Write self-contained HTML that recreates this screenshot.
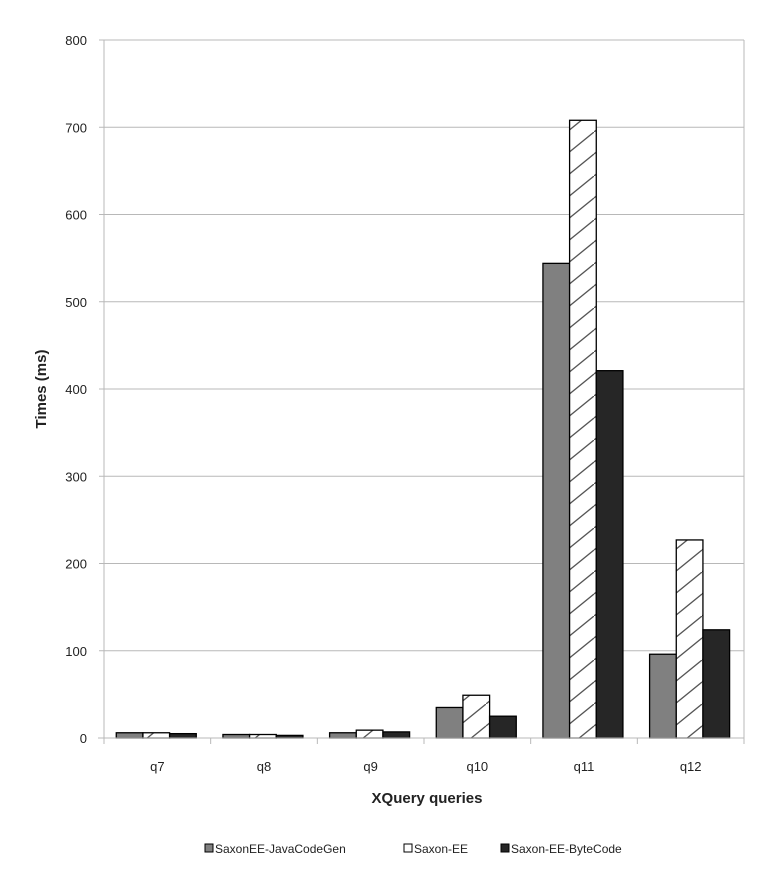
<!DOCTYPE html>
<html><head><meta charset="utf-8"><style>
body{margin:0;background:#fff;font-family:"Liberation Sans",Arial,sans-serif}
</style></head><body>
<svg id="chart" width="768" height="875" xmlns="http://www.w3.org/2000/svg">
<defs>
<pattern id="hatch" patternUnits="userSpaceOnUse" width="27" height="44" x="0" y="0">
<line x1="0" y1="44" x2="27" y2="22" stroke="#555" stroke-width="1.3"/>
<line x1="0" y1="22" x2="27" y2="0" stroke="#555" stroke-width="1.3"/>
</pattern>
</defs>
<g id="grid"></g><g id="bars"></g><g id="axes"></g>
<text transform="translate(46,389) rotate(-90)" text-anchor="middle" font-size="15" font-weight="bold" fill="#222">Times (ms)</text>
<text x="427" y="803" text-anchor="middle" font-size="15" font-weight="bold" fill="#222">XQuery queries</text>
<g font-size="12" fill="#222">
<g><rect x="205" y="844" width="8" height="8" fill="#808080" stroke="#000"/><text x="215" y="853">SaxonEE-JavaCodeGen</text></g>
<g><rect x="404" y="844" width="8" height="8" fill="#fff" stroke="#000"/><text x="414" y="853">Saxon-EE</text></g>
<g><rect x="501" y="844" width="8" height="8" fill="#262626" stroke="#000"/><text x="511" y="853">Saxon-EE-ByteCode</text></g>
</g>
</svg>
<script>
const categories=["q7","q8","q9","q10","q11","q12"];
const javaCodeGen=[6,4,6,35,544,96];
const saxonEE=[6,4,9,49,708,227];
const byteCode=[5,3,7,25,421,124];
const yTicks=[0,100,200,300,400,500,600,700,800];
const NS="http://www.w3.org/2000/svg";
const x0=104,x1=744,y0=738,y1=40,yMax=800;
const gw=(x1-x0)/categories.length;
function y(v){return y0-(v/yMax)*(y0-y1);}
function xg(i){return x0+i*gw;}
function mk(tag,attrs,parent){const e=document.createElementNS(NS,tag);for(const k in attrs)e.setAttribute(k,attrs[k]);parent.appendChild(e);return e;}
const grid=document.getElementById('grid'),bars=document.getElementById('bars'),axes=document.getElementById('axes');
yTicks.forEach(t=>{
 const l=mk('line',{x1:x0,x2:x1,y1:y(t),y2:y(t),stroke:'#b8b8b8','stroke-width':1},grid);
 
 
 const tx=mk('text',{x:87,y:y(t)+5,'text-anchor':'end','font-size':13,fill:'#222'},axes);
 tx.textContent=t;
 
 
});
mk('line',{x1:x1,x2:x1,y1:y1,y2:y0,stroke:'#b8b8b8'},grid);
const series=[[javaCodeGen,'#808080','javacodegen'],[saxonEE,'url(#hatch)','saxon-ee'],[byteCode,'#262626','bytecode']];
const bw=gw*0.25,off=gw*0.115;
categories.forEach((c,i)=>{
 series.forEach((s,j)=>{
  const v=s[0][i];
  const bx=xg(i)+off+j*bw;
  if(j===1) mk('rect',{x:bx,y:y(v),width:bw,height:y0-y(v),fill:'#fff'},bars);
  const r=mk('rect',{x:bx,y:y(v),width:bw,height:y0-y(v),fill:s[1],stroke:'#000','stroke-width':1.3},bars);
  
  
 });
 const tx=mk('text',{x:xg(i)+gw/2,y:771,'text-anchor':'middle','font-size':13,fill:'#222'},axes);
 tx.textContent=c;
 
 
});
mk('line',{x1:x0,x2:x0,y1:y1,y2:y0,stroke:'#b8b8b8'},axes);
mk('line',{x1:x0-6,x2:x1,y1:y0,y2:y0,stroke:'#b8b8b8'},axes);
for(let i=0;i<=categories.length;i++) mk('line',{x1:xg(i),x2:xg(i),y1:y0,y2:y0+6,stroke:'#b8b8b8'},axes);
yTicks.forEach(t=>mk('line',{x1:x0-5,x2:x0,y1:y(t),y2:y(t),stroke:'#b8b8b8'},axes));
</script>
</body></html>
